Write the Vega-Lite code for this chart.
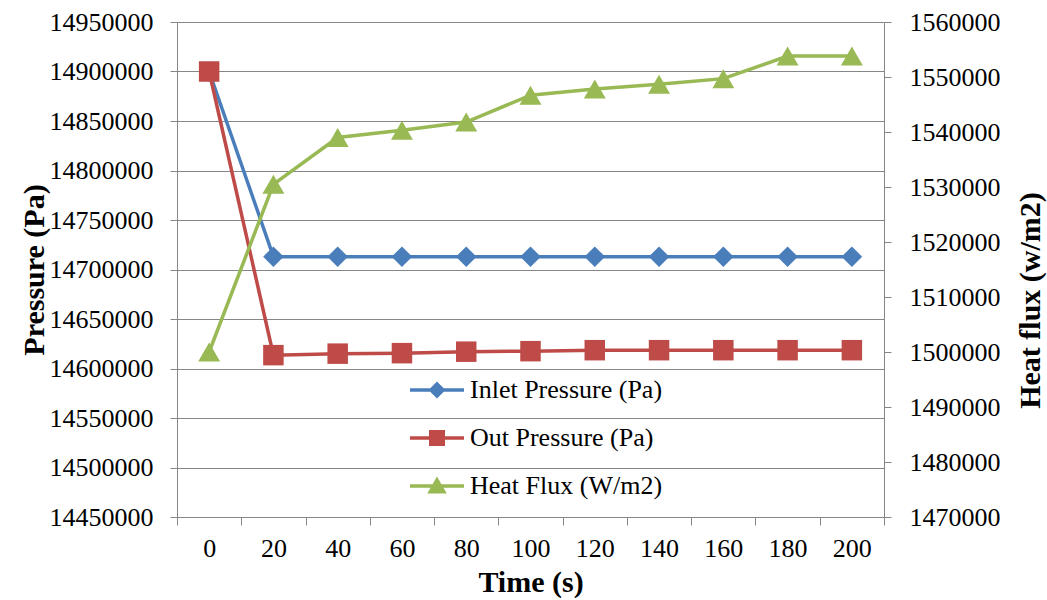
{
  "$schema": "https://vega.github.io/schema/vega-lite/v6.json",
  "autosize": "none",
  "width": 707,
  "height": 495,
  "padding": {"left": 177, "top": 22, "right": 163, "bottom": 83},
  "background": "white",
  "config": {
    "view": {"stroke": null},
    "font": "Liberation Serif",
    "axis": {
      "labelFont": "Liberation Serif",
      "labelFontSize": 26,
      "labelColor": "#000000",
      "titleFont": "Liberation Serif",
      "titleFontSize": 30,
      "titleFontWeight": "bold",
      "titleColor": "#000000",
      "domainColor": "#868686",
      "tickColor": "#868686",
      "gridColor": "#868686",
      "domainWidth": 1,
      "tickWidth": 1
    }
  },
  "data": {
    "values": [
      {"time": 0, "series": "Inlet Pressure (Pa)", "value": 14900000},
      {"time": 20, "series": "Inlet Pressure (Pa)", "value": 14713000},
      {"time": 40, "series": "Inlet Pressure (Pa)", "value": 14713000},
      {"time": 60, "series": "Inlet Pressure (Pa)", "value": 14713000},
      {"time": 80, "series": "Inlet Pressure (Pa)", "value": 14713000},
      {"time": 100, "series": "Inlet Pressure (Pa)", "value": 14713000},
      {"time": 120, "series": "Inlet Pressure (Pa)", "value": 14713000},
      {"time": 140, "series": "Inlet Pressure (Pa)", "value": 14713000},
      {"time": 160, "series": "Inlet Pressure (Pa)", "value": 14713000},
      {"time": 180, "series": "Inlet Pressure (Pa)", "value": 14713000},
      {"time": 200, "series": "Inlet Pressure (Pa)", "value": 14713000},
      {"time": 0, "series": "Out Pressure (Pa)", "value": 14900000},
      {"time": 20, "series": "Out Pressure (Pa)", "value": 14613500},
      {"time": 40, "series": "Out Pressure (Pa)", "value": 14615000},
      {"time": 60, "series": "Out Pressure (Pa)", "value": 14615500},
      {"time": 80, "series": "Out Pressure (Pa)", "value": 14617000},
      {"time": 100, "series": "Out Pressure (Pa)", "value": 14617500},
      {"time": 120, "series": "Out Pressure (Pa)", "value": 14618500},
      {"time": 140, "series": "Out Pressure (Pa)", "value": 14618500},
      {"time": 160, "series": "Out Pressure (Pa)", "value": 14618500},
      {"time": 180, "series": "Out Pressure (Pa)", "value": 14618500},
      {"time": 200, "series": "Out Pressure (Pa)", "value": 14618500},
      {"time": 0, "series": "Heat Flux (W/m2)", "value": 1500000},
      {"time": 20, "series": "Heat Flux (W/m2)", "value": 1530500},
      {"time": 40, "series": "Heat Flux (W/m2)", "value": 1539000},
      {"time": 60, "series": "Heat Flux (W/m2)", "value": 1540300},
      {"time": 80, "series": "Heat Flux (W/m2)", "value": 1541800},
      {"time": 100, "series": "Heat Flux (W/m2)", "value": 1546700},
      {"time": 120, "series": "Heat Flux (W/m2)", "value": 1547800},
      {"time": 140, "series": "Heat Flux (W/m2)", "value": 1548700},
      {"time": 160, "series": "Heat Flux (W/m2)", "value": 1549700},
      {"time": 180, "series": "Heat Flux (W/m2)", "value": 1553800},
      {"time": 200, "series": "Heat Flux (W/m2)", "value": 1553800}
    ]
  },
  "encoding": {
    "x": {
      "field": "time",
      "type": "ordinal",
      "scale": {"type": "band", "paddingInner": 0, "paddingOuter": 0},
      "axis": {
        "title": "Time (s)",
        "labelAngle": 0,
        "tickBand": "extent",
        "tickSize": 8,
        "labelPadding": 10,
        "titlePadding": 6
      }
    },
    "color": {
      "field": "series",
      "type": "nominal",
      "scale": {
        "domain": ["Inlet Pressure (Pa)", "Out Pressure (Pa)", "Heat Flux (W/m2)"],
        "range": ["#4a7ebb", "#be4b48", "#98b954"]
      },
      "legend": {
        "title": null,
        "orient": "none",
        "legendX": 247,
        "legendY": 355,
        "padding": 0,
        "labelFont": "Liberation Serif",
        "labelFontSize": 26,
        "labelColor": "#000000",
        "labelLimit": 0,
        "labelOffset": 20,
        "rowPadding": 22,
        "symbolSize": 100,
        "symbolStrokeWidth": 0,
        "symbolOpacity": 1,
        "symbolType": {"expr": "datum.value === 'Inlet Pressure (Pa)' ? 'M-5.4,-0.35H5.4V0.35H-5.4Z M0,-1.7L1.7,0L0,1.7L-1.7,0Z' : datum.value === 'Out Pressure (Pa)' ? 'M-5.4,-0.35H5.4V0.35H-5.4Z M-1.6,-1.6H1.6V1.6H-1.6Z' : 'M-5.4,-0.35H5.4V0.35H-5.4Z M0,-1.9L1.95,1.5H-1.95Z'"},
        "symbolFillColor": {"expr": "scale('color', datum.value)"}
      }
    }
  },
  "layer": [
    {
      "transform": [{"filter": "datum.series !== 'Heat Flux (W/m2)'"}],
      "encoding": {
        "y": {
          "field": "value",
          "type": "quantitative",
          "scale": {"domain": [14450000, 14950000], "zero": false, "nice": false},
          "axis": {
            "orient": "left",
            "title": "Pressure (Pa)",
            "values": [14450000, 14500000, 14550000, 14600000, 14650000, 14700000, 14750000, 14800000, 14850000, 14900000, 14950000],
            "format": "d",
            "grid": true,
            "tickSize": 7,
            "labelPadding": 17,
            "titlePadding": 0
          }
        }
      },
      "layer": [
        {"mark": {"type": "line", "strokeWidth": 3.5}},
        {
          "transform": [{"filter": "datum.series === 'Inlet Pressure (Pa)'"}],
          "mark": {"type": "point", "shape": "diamond", "filled": true, "opacity": 1, "size": 420}
        },
        {
          "transform": [{"filter": "datum.series === 'Out Pressure (Pa)'"}],
          "mark": {"type": "point", "shape": "square", "filled": true, "opacity": 1, "size": 420}
        }
      ]
    },
    {
      "transform": [{"filter": "datum.series === 'Heat Flux (W/m2)'"}],
      "encoding": {
        "y": {
          "field": "value",
          "type": "quantitative",
          "scale": {"domain": [1470000, 1560000], "zero": false, "nice": false},
          "axis": {
            "orient": "right",
            "title": "Heat flux  (w/m2)",
            "titleAngle": 270,
            "titleBaseline": "middle",
            "titleX": 146,
            "titleY": 278,
            "values": [1470000, 1480000, 1490000, 1500000, 1510000, 1520000, 1530000, 1540000, 1550000, 1560000],
            "format": "d",
            "grid": false,
            "tickSize": 7,
            "labelPadding": 18
          }
        }
      },
      "layer": [
        {"mark": {"type": "line", "strokeWidth": 3.5}},
        {"mark": {"type": "point", "shape": "triangle-up", "filled": true, "opacity": 1, "size": 480}}
      ]
    }
  ],
  "resolve": {"scale": {"y": "independent"}}
}
